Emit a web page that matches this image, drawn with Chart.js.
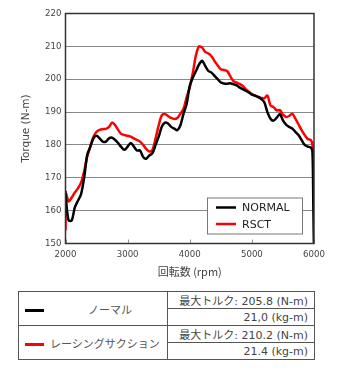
<!DOCTYPE html>
<html>
<head>
<meta charset="utf-8">
<script src="https://cdn.jsdelivr.net/npm/chart.js@4/dist/chart.umd.min.js"></script>
<style>
  body { margin: 0; background: #fff; width: 340px; height: 370px; position: relative; font-family: "DejaVu Sans", "Noto Sans CJK JP", sans-serif; }
  .chart-box { position: absolute; left: 0; top: 0; width: 340px; height: 285px; }
  table.spec { position: absolute; left: 18px; top: 291px; width: 297px; border-collapse: collapse; font-size: 11px; color: #444; }
  table.spec td { border: 1px solid #555; height: 16px; padding: 0 6px; }
  td.name { width: 136px; position: relative; color: #555; }
  td.val { text-align: right; white-space: nowrap; }
  .swatch { display: inline-block; width: 19px; height: 3px; vertical-align: middle; margin-right: 6px; }
</style>
</head>
<body>
<div class="chart-box"><canvas id="torqueChart"></canvas></div>
<table class="spec">
  <tr>
    <td class="name" rowspan="2"><span class="swatch" style="background:#000"></span><span style="margin-left:38px">ノーマル</span></td>
    <td class="val">最大トルク: 205.8 (N-m)</td>
  </tr>
  <tr><td class="val">21,0 (kg-m)</td></tr>
  <tr>
    <td class="name" rowspan="2"><span class="swatch" style="background:#f00"></span>レーシングサクション</td>
    <td class="val">最大トルク: 210.2 (N-m)</td>
  </tr>
  <tr><td class="val">21.4 (kg-m)</td></tr>
</table>
<script>
const seriesNames = ['NORMAL', 'RSCT'];
const yTicks = [150, 160, 170, 180, 190, 200, 210, 220];
const xTicks = [2000, 3000, 4000, 5000, 6000];

const rpm = [
  2000, 2010, 2050, 2100, 2150, 2200, 2250, 2300, 2350, 2400, 2450, 2500, 2550, 2600, 2650, 2700, 2750, 2800, 2850, 2900,
  2950, 3000, 3050, 3100, 3150, 3200, 3250, 3300, 3350, 3400, 3450, 3500, 3550, 3600, 3650, 3700, 3750, 3800, 3850, 3900,
  3950, 4000, 4050, 4100, 4150, 4200, 4250, 4300, 4350, 4400, 4450, 4500, 4550, 4600, 4650, 4700, 4750, 4800, 4850, 4900,
  4950, 5000, 5050, 5100, 5150, 5200, 5250, 5300, 5350, 5400, 5450, 5500, 5550, 5600, 5650, 5700, 5750, 5800, 5850, 5900,
  5950, 5975, 5990, 6000, 6010
];
const normal = [
  166, 163, 157, 157, 161, 163, 165, 170, 177, 179.5, 182, 182.8, 182, 181, 181, 182, 182.2, 181.5, 180.5, 179.3,
  178.5, 179.5, 180.6, 179.5, 178.3, 178.3, 176.3, 175.8, 176.8, 177.5, 180, 182.5, 185.5, 186.8, 186.5, 185.5, 185, 184.5, 186, 189.5,
  192.5, 198, 200.5, 202.5, 204.5, 205.6, 204, 202.5, 202, 201, 200, 199, 198.7, 198.6, 198.8, 198.5, 198.2, 197.5, 197, 196.5,
  196, 195.3, 195, 194.6, 194, 193, 190, 188, 187.4, 188.3, 189.4, 187.5, 186.2, 185.5, 185, 184, 183, 181.5, 180, 179.5,
  179.2, 178, 160, 148, 145
];
const rsct = [
  154, 165, 162.8, 164, 165.5, 166.8, 168.5, 172, 176.5, 179.5, 182.5, 184, 184.6, 184.8, 184.9, 185.5, 186.8, 186, 184.5, 183.3,
  183, 182.8, 182.5, 182, 181.5, 181, 180, 178.8, 178, 178.5, 182, 186, 189, 189.4, 188.8, 188.2, 187.9, 188.2, 189.5, 191,
  194.5, 197.5, 202, 207.3, 210, 209.6, 208.3, 207.8, 207, 205.5, 204.2, 203, 202.8, 202.5, 201, 199.5, 199, 198.6, 198, 197,
  196.2, 195.5, 195, 194.6, 194.3, 194.2, 195, 192, 191.5, 190.5, 190.6, 189.2, 188.5, 188.8, 189.5, 188, 186.3, 184.5, 183, 181.8,
  181.5, 180, 175, 165, 145
];

const toPoints = values => rpm.map((x, i) => ({ x, y: values[i] }));

// frame, inner tick marks and the boxed legend inside the plot
const decorations = {
  id: 'decorations',
  afterDatasetsDraw(chart) {
    const { ctx, chartArea: a, scales: { x } } = chart;
    ctx.save();
    ctx.strokeStyle = '#999';
    ctx.lineWidth = 1;
    xTicks.forEach(v => {
      const px = Math.round(x.getPixelForValue(v)) + 0.5;
      ctx.beginPath();
      ctx.moveTo(px, a.bottom);
      ctx.lineTo(px, a.bottom - 4);
      ctx.stroke();
    });
    ctx.strokeStyle = '#333';
    ctx.lineWidth = 1.5;
    ctx.strokeRect(a.left, a.top, a.right - a.left, a.bottom - a.top);

    const w = 95, h = 36;
    const bx = a.right - 12 - w, by = a.bottom - 10 - h;
    ctx.fillStyle = '#fff';
    ctx.fillRect(bx, by, w, h);
    ctx.strokeStyle = '#777';
    ctx.lineWidth = 1;
    ctx.strokeRect(bx + 0.5, by + 0.5, w, h);
    ctx.font = '11px "DejaVu Sans"';
    ctx.textBaseline = 'middle';
    chart.data.datasets.forEach((ds, i) => {
      const ly = by + 10 + i * 16.5;
      ctx.strokeStyle = ds.borderColor;
      ctx.lineWidth = 2.5;
      ctx.beginPath();
      ctx.moveTo(bx + 9, ly);
      ctx.lineTo(bx + 29, ly);
      ctx.stroke();
      ctx.fillStyle = '#222';
      ctx.fillText(ds.label, bx + 35, ly + 1);
    });
    ctx.restore();
  }
};

const tickFont = { family: '"DejaVu Sans"', size: 8.6 };

new Chart(document.getElementById('torqueChart'), {
  type: 'line',
  data: {
    datasets: [
      { label: seriesNames[0], data: toPoints(normal), borderColor: '#000000', borderWidth: 2.5, pointRadius: 0, tension: 0.3, clip: 0 },
      { label: seriesNames[1], data: toPoints(rsct), borderColor: '#ff0000', borderWidth: 2.5, pointRadius: 0, tension: 0.3, clip: 0 }
    ]
  },
  options: {
    responsive: true,
    maintainAspectRatio: false,
    animation: false,
    layout: { padding: { top: 13.5, right: 26, left: 0, bottom: 0 } },
    plugins: { legend: { display: false }, tooltip: { enabled: false } },
    scales: {
      x: {
        type: 'linear', min: 2000, max: 6000,
        afterBuildTicks: s => { s.ticks = xTicks.map(value => ({ value })); },
        afterFit: s => { s.height = 41.5; },
        grid: { display: false, drawTicks: false },
        border: { display: false },
        ticks: { font: tickFont, color: '#444', padding: 6, maxRotation: 0, callback: v => String(v) },
        title: { display: true, text: '回転数 (rpm)', color: '#444', font: { family: '"Noto Sans CJK JP"', size: 11 }, padding: { top: 0, bottom: 7 } }
      },
      y: {
        min: 150, max: 220,
        afterBuildTicks: s => { s.ticks = yTicks.map(value => ({ value })); },
        afterFit: s => { s.width = 65.5; },
        grid: { color: '#888', lineWidth: 1, drawTicks: false },
        border: { display: false },
        ticks: { font: tickFont, color: '#444', padding: 4 },
        title: { display: true, text: 'Torque (N-m)', color: '#444', font: { family: '"DejaVu Sans"', size: 10.5 }, padding: { top: 20, bottom: 0 } }
      }
    }
  },
  plugins: [decorations]
});
</script>
</body>
</html>
